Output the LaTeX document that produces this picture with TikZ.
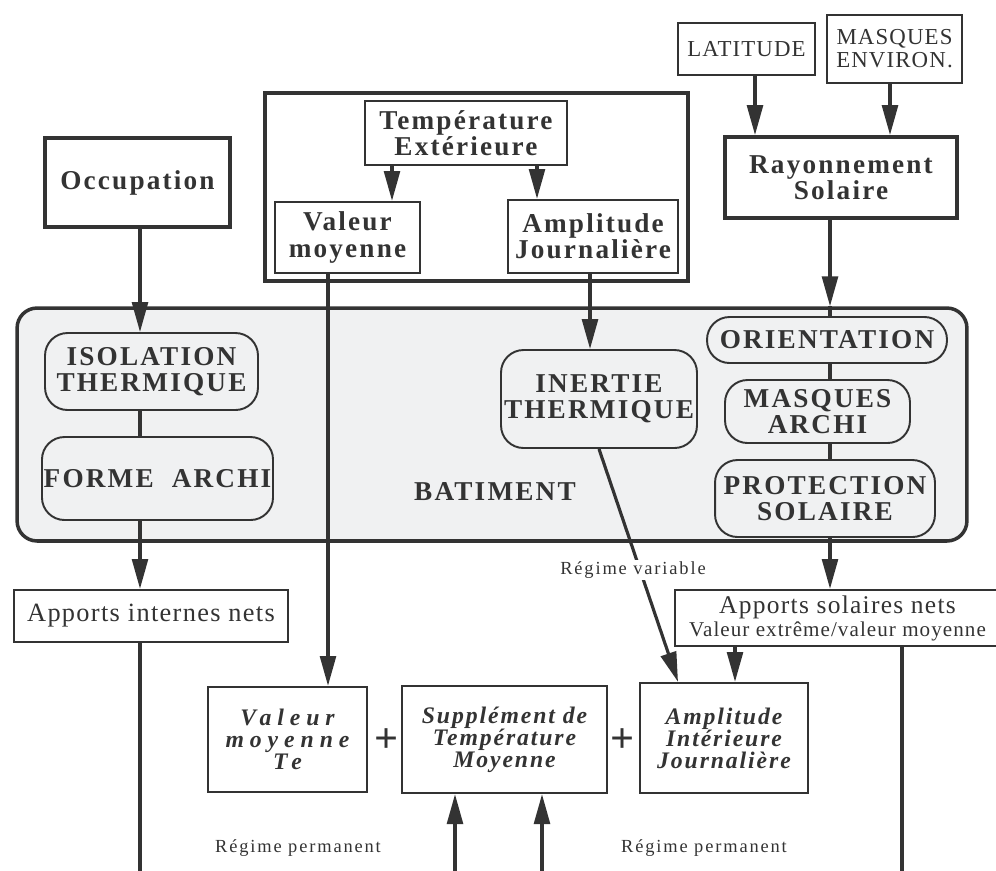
\documentclass[tikz,border=0pt]{standalone}
\usepackage{fontspec}
\setmainfont{Liberation Serif}
\newfontfamily\spacedbf{Liberation Serif}[LetterSpace=8]
\newfontfamily\widebf{Liberation Serif}[LetterSpace=25]
\newfontfamily\spacedrm{Liberation Serif}[LetterSpace=5]
\newfontfamily\smallrm{Liberation Serif}[LetterSpace=10]
\usepackage{tikz}
\usetikzlibrary{arrows.meta}
\definecolor{ink}{rgb}{0.20,0.20,0.20}
\definecolor{batfill}{rgb}{0.94,0.945,0.95}
\tikzset{
  box/.style={draw=ink, line width=1.3pt, inner sep=1pt, align=center, text=ink,
    font=\spacedbf\bfseries\fontsize{15.5}{15}\selectfont},
  heavy/.style={box, line width=2.2pt},
  pill/.style={box, line width=1.1pt, rounded corners=0.45cm, fill=batfill},
  plainbox/.style={box, font=\spacedrm\fontsize{13}{13}\selectfont},
  resbox/.style={box, font=\spacedbf\bfseries\itshape\fontsize{13.5}{12.5}\selectfont},
  tag/.style={text=ink, font=\spacedbf\bfseries\fontsize{15.5}{15}\selectfont},
  regime/.style={text=ink, font=\smallrm\fontsize{10.5}{12}\selectfont},
  arr/.style={draw=ink, line width=1.8pt, -{Triangle[length=17pt,width=9pt]}},
  link/.style={draw=ink, line width=1.8pt}
}

\begin{document}
\begin{tikzpicture}[x=0.02cm, y=-0.02cm]
  \useasboundingbox (0,0) rectangle (996,870);
  \clip (0,0) rectangle (996,870);

  % temperature exterieure
  \node[heavy, minimum width=8.46cm, minimum height=3.76cm] (grpT) at (476.5,187) {};
  \node[box, minimum width=4.04cm, minimum height=1.28cm] (tempext) at (466,133) {Température\\Extérieure};
  \node[box, minimum width=2.9cm, minimum height=1.42cm] (valmoy) at (347.5,237.5) {Valeur\\moyenne};
  \node[box, minimum width=3.4cm, minimum height=1.46cm] (ampjour) at (593,236.5) {Amplitude\\Journalière};
  \draw[arr] (392,0 |- tempext.south) -- (392,0 |- valmoy.north);
  \draw[arr] (537,0 |- tempext.south) -- (537,0 |- ampjour.north);

  % occupation, soleil
  \node[heavy, minimum width=3.7cm, minimum height=1.78cm] (occup) at (137.5,182.5) {Occupation};
  \node[plainbox, minimum width=2.74cm, minimum height=1.04cm] (latit) at (746.5,49) {LATITUDE};
  \node[plainbox, minimum width=2.7cm, minimum height=1.36cm] (masqenv) at (894.5,49) {MASQUES\\ENVIRON.};
  \node[heavy, minimum width=4.64cm, minimum height=1.62cm] (rayon) at (841,177.5) {Rayonnement\\Solaire};
  \draw[arr] (755,0 |- latit.south) -- (755,0 |- rayon.north);
  \draw[arr] (890,0 |- masqenv.south) -- (890,0 |- rayon.north);

  % batiment
  \node[box, line width=2pt, rounded corners=0.4cm, fill=batfill,
        minimum width=19cm, minimum height=4.66cm] (bat) at (492,424.5) {};
  \node[tag] (batlbl) at (495,492) {BATIMENT};
  \node[pill, minimum width=4.26cm, minimum height=1.54cm] (isol) at (151.5,371.5) {ISOLATION\\THERMIQUE};
  \node[pill, minimum width=4.58cm, minimum height=1.66cm] (forme) at (157.5,478.5) {FORME\ \ ARCHI};
  \node[pill, minimum width=3.92cm, minimum height=1.96cm] (inert) at (599,399) {INERTIE\\THERMIQUE};
  \node[pill, minimum width=4.8cm, minimum height=0.92cm] (orient) at (827,340) {ORIENTATION};
  \node[pill, minimum width=3.7cm, minimum height=1.26cm] (masqarch) at (817.5,411.5) {MASQUES\\ARCHI};
  \node[pill, minimum width=4.4cm, minimum height=1.54cm] (protsol) at (825,498.5) {PROTECTION\\SOLAIRE};

  \draw[arr] (140,0 |- occup.south) -- (140,0 |- isol.north);
  \draw[link] (140,0 |- isol.south) -- (140,0 |- forme.north);
  \draw[arr] (590,0 |- ampjour.south) -- (590,0 |- inert.north);
  \draw[arr] (830,0 |- rayon.south) -- (830,0 |- bat.north);
  \draw[link] (830,0 |- bat.north) -- (830,0 |- orient.north);
  \draw[link] (830,0 |- orient.south) -- (830,0 |- masqarch.north);
  \draw[link] (830,0 |- masqarch.south) -- (830,0 |- protsol.north);

  % apports
  \node[plainbox, font=\spacedrm\fontsize{15}{15}\selectfont,
        minimum width=5.48cm, minimum height=1.04cm] (appint) at (151,616) {Apports internes nets};
  \node[plainbox, minimum width=6.5cm, minimum height=1.12cm, inner sep=0pt] (appsol) at (837.5,618)
    {{\fontsize{14.5}{14}\selectfont Apports solaires nets}\\{\fontsize{12}{13}\selectfont Valeur extrême/valeur moyenne}};
  \draw[arr] (140,0 |- forme.south) -- (140,0 |- appint.north);
  \draw[arr] (830,0 |- protsol.south) -- (830,0 |- appsol.north);

  % temperature interieure
  \node[resbox, font=\widebf\bfseries\itshape\fontsize{13.5}{12.5}\selectfont,
        minimum width=3.18cm, minimum height=2.1cm] (valte) at (287.5,739.5) {Valeur\\moyenne\\Te};
  \node[resbox, minimum width=4.1cm, minimum height=2.14cm] (suppl) at (504.5,739.5) {Supplément de\\Température\\Moyenne};
  \node[resbox, minimum width=3.36cm, minimum height=2.2cm] (ampint) at (724,738) {Amplitude\\Intérieure\\Journalière};
  \node[tag, font=\bfseries\fontsize{24}{24}\selectfont] (plusA) at (387,741) {+};
  \node[tag, font=\bfseries\fontsize{24}{24}\selectfont] (plusB) at (623,741) {+};

  \draw[arr] (328,0 |- valmoy.south) -- (328,0 |- valte.north);
  \draw[arr] (inert.south) -- (678,0 |- ampint.north);
  \draw[arr] (735,0 |- appsol.south) -- (735,0 |- ampint.north);

  % regimes
  \coordinate (outint) at (140,875);
  \coordinate (outsol) at (902,875);
  \coordinate (inA) at (455,875);
  \coordinate (inB) at (542,875);
  \draw[link] (140,0 |- appint.south) -- (outint);
  \draw[link] (902,0 |- appsol.south) -- (outsol);
  \draw[arr] (inA) -- (inA |- suppl.south);
  \draw[arr] (inB) -- (inB |- suppl.south);
  \node[regime, fill=white, inner sep=1pt] (regvar) at (633,570) {Régime variable};
  \node[regime] (regpermA) at (298,848) {Régime permanent};
  \node[regime] (regpermB) at (704,848) {Régime permanent};
\end{tikzpicture}
\end{document}
